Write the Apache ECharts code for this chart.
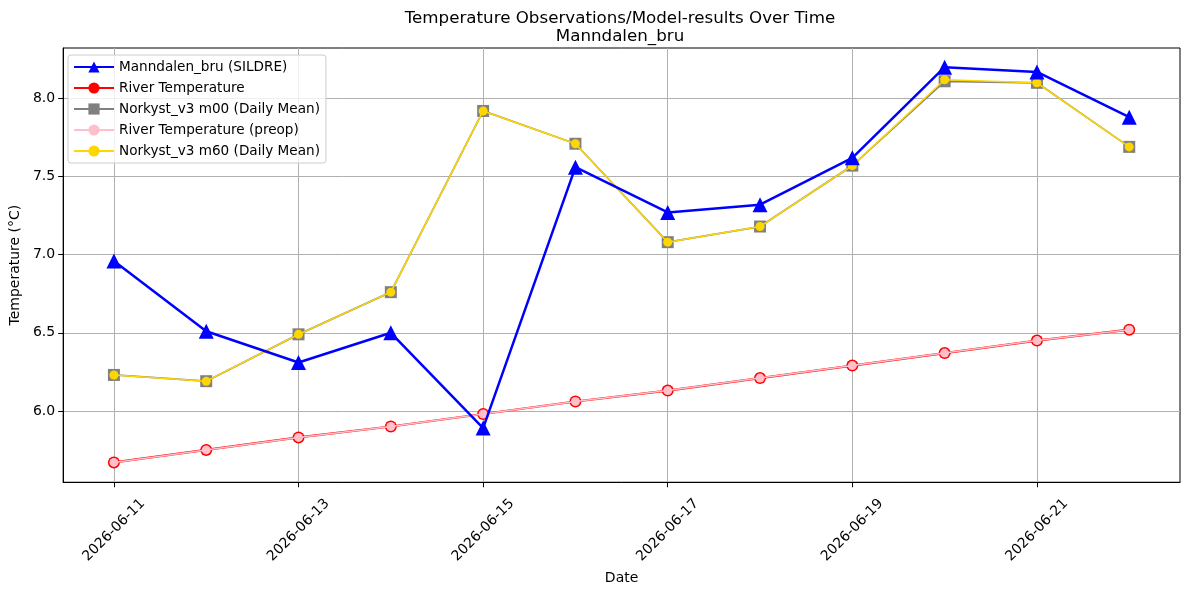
<!DOCTYPE html>
<html>
<head>
<meta charset="utf-8">
<script src="https://cdn.jsdelivr.net/npm/echarts@6/dist/echarts.min.js"></script>
<style>
  html, body { margin: 0; padding: 0; background: #fff; }
  #chart { width: 1189px; height: 590px; }
</style>
</head>
<body>
<div id="chart"></div>
<script>
// 날짜 (x축 카테고리)
var dates = ['2026-06-11', '2026-06-12', '2026-06-13', '2026-06-14', '2026-06-15', '2026-06-16',
             '2026-06-17', '2026-06-18', '2026-06-19', '2026-06-20', '2026-06-21', '2026-06-22'];
var sildre = [6.96, 6.51, 6.31, 6.50, 5.89, 7.56, 7.27, 7.32, 7.62, 8.20, 8.17, 7.88];
var riverTemp = [5.67, 5.75, 5.83, 5.90, 5.98, 6.06, 6.13, 6.21, 6.29, 6.37, 6.45, 6.52];
var m00 = [6.23, 6.19, 6.49, 6.76, 7.92, 7.71, 7.08, 7.18, 7.57, 8.11, 8.10, 7.69];
var riverPreop = [5.67, 5.75, 5.83, 5.90, 5.98, 6.06, 6.13, 6.21, 6.29, 6.37, 6.45, 6.52];
var m60 = [6.23, 6.19, 6.49, 6.76, 7.92, 7.71, 7.08, 7.18, 7.57, 8.12, 8.10, 7.69];
var xTicks = [0, 2, 4, 6, 8, 10];          // 2026-06-11 .. 2026-06-21
var yTicks = [6.0, 6.5, 7.0, 7.5, 8.0];

function pairs(vals) {
  return vals.map(function (v, i) { return [i, v]; });
}

var font = 'DejaVu Sans';
var myChart = echarts.init(document.getElementById('chart'));
var option = {
  animation: false,
  textStyle: { fontFamily: font },
  title: {
    text: 'Temperature Observations/Model-results Over Time\nManndalen_bru',
    left: 615, textAlign: 'center', top: 5,
    textStyle: { fontFamily: font, fontSize: 16.7, fontWeight: 'normal', color: '#000', lineHeight: 18 }
  },
  legend: {
    orient: 'vertical',
    left: 68, top: 55,
    padding: [5, 6, 5, 5],
    itemGap: 7,
    itemWidth: 40, itemHeight: 14,
    backgroundColor: 'rgba(255,255,255,0.8)',
    borderColor: '#cccccc', borderWidth: 1, borderRadius: 3,
    textStyle: { fontFamily: font, fontSize: 13.6, color: '#000' },
    data: ['Manndalen_bru (SILDRE)', 'River Temperature', 'Norkyst_v3 m00 (Daily Mean)',
           'River Temperature (preop)', 'Norkyst_v3 m60 (Daily Mean)']
  },
  grid: { left: 61, right: 9, top: 48, bottom: 106, show: true, borderColor: '#000', borderWidth: 1 },
  xAxis: {
    type: 'value',
    min: -0.55, max: 11.55,
    name: 'Date', nameLocation: 'middle', nameGap: 82,
    nameTextStyle: { fontFamily: font, fontSize: 14, color: '#000' },
    axisLine: { show: true, onZero: false, lineStyle: { color: '#000', width: 1 } },
    axisTick: { show: true, inside: false, length: 5, lineStyle: { color: '#000' }, customValues: xTicks },
    axisLabel: {
      customValues: xTicks,
      rotate: 45, align: 'center', verticalAlign: 'middle', margin: 48,
      fontFamily: font, fontSize: 14, color: '#000',
      formatter: function (v) { return dates[Math.round(v)]; }
    },
    splitLine: { show: true, lineStyle: { color: '#b0b0b0', width: 1 } }
  },
  yAxis: {
    type: 'value',
    min: 5.543, max: 8.323,
    name: 'Temperature (°C)', nameLocation: 'middle', nameGap: 37,
    nameTextStyle: { fontFamily: font, fontSize: 14, color: '#000' },
    axisLine: { show: true, onZero: false, lineStyle: { color: '#000', width: 1 } },
    axisTick: { show: true, length: 5, lineStyle: { color: '#000' }, customValues: yTicks },
    axisLabel: {
      customValues: yTicks, margin: 8,
      fontFamily: font, fontSize: 14, color: '#000',
      formatter: function (v) { return v.toFixed(1); }
    },
    splitLine: { show: true, lineStyle: { color: '#b0b0b0', width: 1 } }
  },
  series: [
    {
      name: 'Manndalen_bru (SILDRE)', type: 'line', data: pairs(sildre),
      symbol: 'triangle', symbolSize: 15, z: 5,
      itemStyle: { color: '#0000ff' }, lineStyle: { color: '#0000ff', width: 2.5 }
    },
    {
      name: 'River Temperature', type: 'line', data: pairs(riverTemp),
      symbol: 'circle', symbolSize: 12, z: 2,
      itemStyle: { color: '#ff0000' }, lineStyle: { color: '#ff0000', width: 2.2 }
    },
    {
      name: 'Norkyst_v3 m00 (Daily Mean)', type: 'line', data: pairs(m00),
      symbol: 'rect', symbolSize: 12, z: 3,
      itemStyle: { color: '#808080' }, lineStyle: { color: '#808080', width: 1.8 }
    },
    {
      name: 'River Temperature (preop)', type: 'line', data: pairs(riverPreop),
      symbol: 'circle', symbolSize: 9, z: 3,
      itemStyle: { color: '#ffc0cb' }, lineStyle: { color: '#ffc0cb', width: 1.5 }
    },
    {
      name: 'Norkyst_v3 m60 (Daily Mean)', type: 'line', data: pairs(m60),
      symbol: 'circle', symbolSize: 9, z: 4,
      itemStyle: { color: '#ffd700' }, lineStyle: { color: '#ffd700', width: 1.5 }
    }
  ]
};
myChart.setOption(option);
window.addEventListener('resize', myChart.resize);
</script>
</body>
</html>
